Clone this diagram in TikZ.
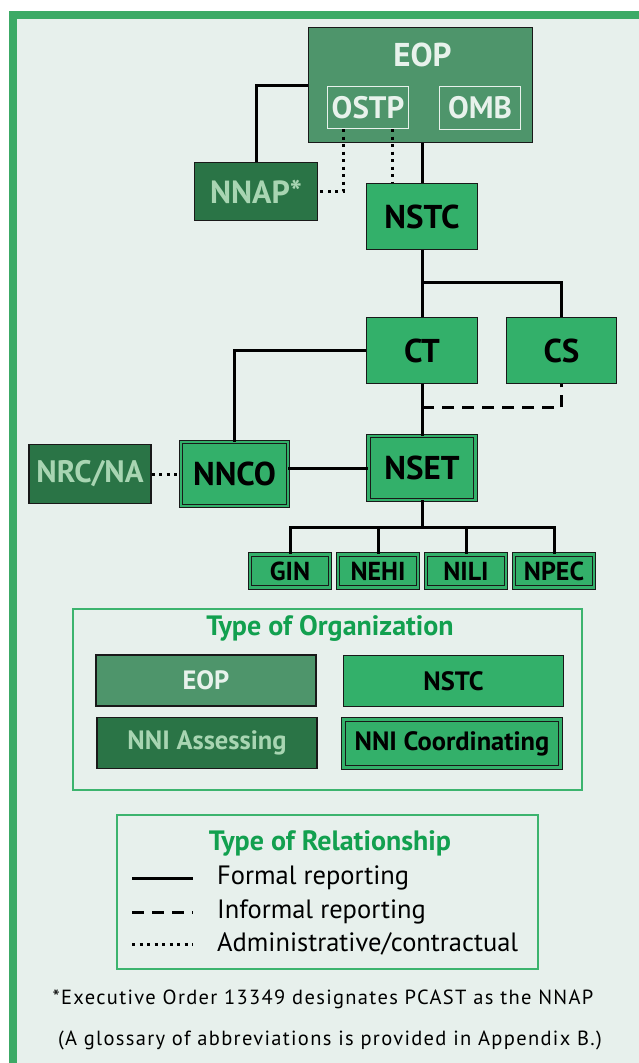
\documentclass[tikz,border=0pt]{standalone}
\usepackage{fontspec}
\setmainfont{PT Sans}
\newfontfamily\notefont[LetterSpace=6.5]{PT Sans}
\usetikzlibrary{calc}

\definecolor{framegreen}{HTML}{3CAA66}
\definecolor{bgpanel}{HTML}{E7F0EC}
\definecolor{eopfill}{HTML}{4E956B}
\definecolor{eoptext}{HTML}{E8F2EC}
\definecolor{assessfill}{HTML}{2A7446}
\definecolor{assesstext}{HTML}{A8D5B2}
\definecolor{nstcfill}{HTML}{33B06A}
\definecolor{keygreen}{HTML}{3CB46E}
\definecolor{keytitle}{HTML}{12A04F}

\tikzset{
    orgbox/.style={draw=black!90, line width=1.2pt, inner sep=0pt, font=\bfseries\fontsize{33}{33}\selectfont},
    eopbox/.style={orgbox, fill=eopfill, text=eoptext},
    officebox/.style={draw=eoptext, line width=1pt, inner sep=0pt, text=eoptext, font=\bfseries\fontsize{31}{31}\selectfont},
    assessbox/.style={orgbox, fill=assessfill, text=assesstext},
    nstcbox/.style={orgbox, fill=nstcfill, text=black},
    coordbox/.style={nstcbox, line width=0.9pt, double=nstcfill, double distance=2.4pt},
    wgbox/.style={coordbox, minimum width=80pt, minimum height=33pt, font=\bfseries\fontsize{26}{26}\selectfont},
    keyframe/.style={draw=keygreen, line width=2.5pt},
    keytitletext/.style={text=keytitle, font=\bfseries\fontsize{28}{28}\selectfont},
    keybox/.style={minimum width=220pt, minimum height=51pt, font=\bfseries\fontsize{26.5}{26.5}\selectfont},
    keylabel/.style={anchor=west, inner sep=0pt, font=\fontsize{26.5}{26.5}\selectfont},
    footnote/.style={inner sep=0pt, font=\notefont\fontsize{20.5}{20.5}\selectfont},
    formal/.style={line width=3pt},
    informal/.style={line width=3pt, dash pattern=on 12pt off 8pt},
    admin/.style={line width=3pt, dash pattern=on 3pt off 4.5pt}
}

\begin{document}
\begin{tikzpicture}[x=1pt,y=-1pt]
            \useasboundingbox (0,0) rectangle (639,1063);
            \fill[bgpanel] (13,15) rectangle (639,1063);
            \draw[framegreen, line width=8pt] (639,15) -- (13,15) -- (13,1063);

            \node[eopbox, minimum width=224pt, minimum height=115pt] (eop) at (420.5,85) {};
            \node[text=eoptext, font=\bfseries\fontsize{33}{33}\selectfont] (eoptitle) at ($(eop.north)+(2,28)$) {EOP};
            \node[officebox, minimum width=81pt, minimum height=42pt] (ostp) at (368,107.5) {OSTP};
            \node[officebox, minimum width=81pt, minimum height=43pt] (omb) at (480,108) {OMB};
            \node[assessbox, minimum width=123pt, minimum height=58pt, font=\bfseries\fontsize{32}{32}\selectfont] (nnap) at (256,191.5) {NNAP*};
            \node[nstcbox, minimum width=111pt, minimum height=66pt] (nstc) at (422,216.5) {NSTC};
            \node[nstcbox, minimum width=111pt, minimum height=66pt] (ct) at (422,350.5) {CT};
            \node[nstcbox, minimum width=110pt, minimum height=66pt] (cs) at (561.5,350.5) {CS};
            \node[coordbox, minimum width=107pt, minimum height=64pt] (nset) at (422,468) {NSET};
            \node[coordbox, minimum width=107pt, minimum height=64pt] (nnco) at (234.5,474) {NNCO};
            \node[assessbox, minimum width=122pt, minimum height=59pt, font=\bfseries\fontsize{31}{31}\selectfont] (nrcna) at (90,474) {NRC/NA};
            \node[wgbox] (gin) at (290,571) {GIN};
            \node[wgbox] (nehi) at (378,571) {NEHI};
            \node[wgbox] (nili) at (466,571) {NILI};
            \node[wgbox] (npec) at (554,571) {NPEC};

            \draw[formal] (eop.west) -| (nnap.north);
            \draw[admin] ([xshift=-25pt]ostp.south) |- (nnap.east);
            \draw[admin] ([xshift=24pt]ostp.south) -- ([xshift=24pt]ostp.south |- nstc.north);
            \draw[formal] (eop.south -| nstc.north) -- (nstc.north);
            \draw[formal] (nstc.south) -- (ct.north);
            \coordinate (nstcsplit) at ($(nstc.south)!0.48!(ct.north)$);
            \draw[formal] (nstcsplit) -| (cs.north);
            \draw[formal] (ct.west) -| (nnco.north);
            \draw[formal] (ct.south) -- (nset.north);
            \coordinate (ctnset) at ($(ct.south)!0.46!(nset.north)$);
            \draw[informal] (ctnset) -| (cs.south);
            \draw[formal] (nnco.east |- nset.west) -- (nset.west);
            \draw[admin] (nrcna.east) -- (nnco.west);
            \coordinate (nsetbus) at ($(nset.south)+(0,27)$);
            \foreach \wg in {gin,nehi,nili,npec}{
                \draw[formal] (nset.south) -- (nsetbus) -| (\wg.north);
            }

            \draw[keyframe] (73,609) rectangle (582,790);
            \node[keytitletext] (orgtitle) at (330,628) {Type of Organization};
            \node[eopbox, keybox] (keyeop) at (206,680.5) {EOP};
            \node[nstcbox, keybox] (keynstc) at (453.5,681) {NSTC};
            \node[assessbox, keybox] (keyassess) at (207,743) {NNI Assessing};
            \node[coordbox, keybox, minimum width=217pt, minimum height=48pt] (keycoord) at (452,743.5) {NNI Coordinating};

            \draw[keyframe] (117,815) rectangle (538,969);
            \node[keytitletext] (reltitle) at (330,843) {Type of Relationship};
            \node[keylabel] (kformal) at (217,878) {Formal reporting};
            \node[keylabel] (kinformal) at (217,912) {Informal reporting};
            \node[keylabel] (kadmin) at (217,944) {Administrative/contractual};
            \foreach \k/\sty in {kformal/formal,kinformal/informal,kadmin/admin}{
                \draw[\sty] ([xshift=-85pt]\k.west) -- ([xshift=-24pt]\k.west);
            }

            \node[footnote] (pcast) at (323,999) {*Executive Order 13349 designates PCAST as the NNAP};
            \node[footnote] (glossary) at (330,1040) {(A glossary of abbreviations is provided in Appendix B.)};
        \end{tikzpicture}
\end{document}
